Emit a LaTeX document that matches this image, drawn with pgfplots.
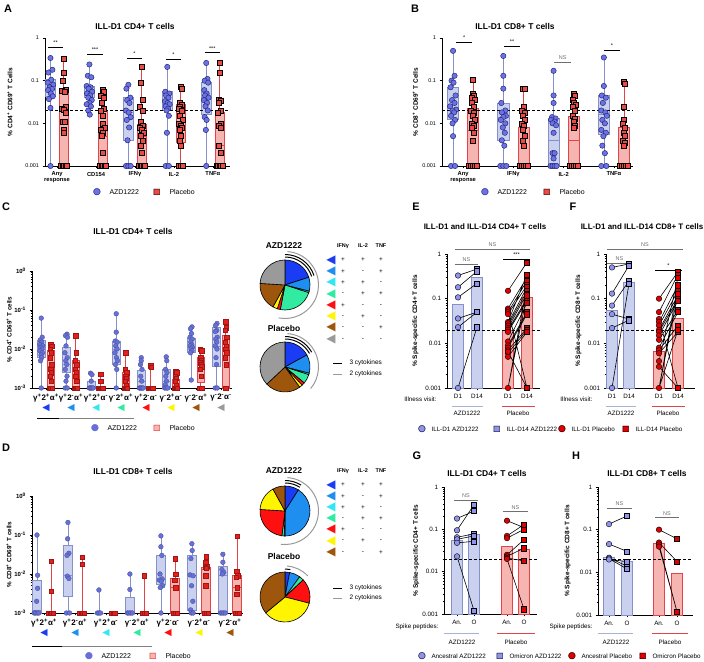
\documentclass[border=0pt]{standalone}
\usepackage{pgfplots}
\pgfplotsset{compat=1.18}
\usepackage{fontspec}
\setmainfont{Liberation Sans}
\newfontfamily\dejavu{DejaVu Sans}
\newcommand\fsz[1]{\fontsize{#1}{#1}\selectfont}
\definecolor{azdpt}{HTML}{6C71E6}
\definecolor{azdedge}{HTML}{1E2470}
\definecolor{azdfill}{HTML}{C9D1EE}
\definecolor{azdline}{HTML}{8590C8}
\definecolor{plpt}{HTML}{EC4A42}
\definecolor{plfill}{HTML}{F6B5B1}
\definecolor{plline}{HTML}{E2444A}
\definecolor{azdptc}{HTML}{6670D8}
\definecolor{plptc}{HTML}{E3201C}
\definecolor{ehpt}{HTML}{8F93EE}
\definecolor{ehred}{HTML}{E00000}
\definecolor{cblue}{HTML}{1A3CF5}
\definecolor{cazure}{HTML}{1E8FF0}
\definecolor{ccyan}{HTML}{30E8F2}
\definecolor{cmint}{HTML}{30EBA0}
\definecolor{cred}{HTML}{FF1010}
\definecolor{cyellow}{HTML}{FFF500}
\definecolor{cbrown}{HTML}{9E560C}
\definecolor{cgray}{HTML}{9A9A9A}
\definecolor{nsgray}{HTML}{707070}
\pgfplotsset{
 prismax/.style={scale only axis, axis x line*=bottom, axis y line*=left,
   clip=false, tick align=outside, axis line style={line width=0.8pt},
   tick style={black, line width=0.6pt}, major tick length=2.5pt, minor tick length=1.5pt,
   tick label style={font=\fsz{5.5}}},
 azdpts/.style={forget plot, only marks, mark=*, mark size=2.7, mark options={fill=azdpt, draw=azdedge, line width=0.45pt}},
 plpts/.style={forget plot, only marks, mark=square*, mark size=2.5, mark options={fill=plpt, draw=black, line width=0.45pt}},
 azdptsc/.style={forget plot, only marks, mark=*, mark size=2.4, mark options={fill=azdptc, draw=azdptc!70!black, line width=0.3pt}},
 plptsc/.style={forget plot, only marks, mark=square*, mark size=2.2, mark options={fill=plptc, draw=plptc!70!black, line width=0.3pt}},
 ehac/.style={forget plot, only marks, mark=*, mark size=2.8, mark options={fill=ehpt, draw=black, line width=0.4pt}},
 ehas/.style={forget plot, only marks, mark=square*, mark size=2.6, mark options={fill=ehpt, draw=black, line width=0.4pt}},
 ehpc/.style={forget plot, only marks, mark=*, mark size=2.8, mark options={fill=ehred, draw=black, line width=0.4pt}},
 ehps/.style={forget plot, only marks, mark=square*, mark size=2.6, mark options={fill=ehred, draw=black, line width=0.4pt}},
 pairline/.style={forget plot, black, line width=0.6pt, mark=none, unbounded coords=jump},
 thr/.style={forget plot, black, line width=0.7pt, dash pattern=on 3bp off 2bp},
}
% #1 colour prefix, #2 centre, #3 left, #4 right, #5 low whisker, #6 q1, #7 median, #8 q3, #9 high whisker
\newcommand\bx[9]{%
\addplot[forget plot, mark=none, draw=#1line, line width=0.6pt] coordinates {(#2,#5) (#2,#9)};
\addplot[forget plot, mark=none, draw=#1line, fill=#1fill, line width=0.6pt] coordinates {(#3,#6) (#4,#6) (#4,#8) (#3,#8)} --cycle;
\addplot[forget plot, mark=none, draw=#1line, line width=0.6pt] coordinates {(#3,#7) (#4,#7)};}
% #1 colour prefix, #2 left, #3 right, #4 value
\newcommand\vbar[4]{\addplot[forget plot, mark=none, draw=#1line, fill=#1fill, line width=0.6pt] coordinates {(#2,0.001) (#3,0.001) (#3,#4) (#2,#4)} --cycle;}
\newcommand\tri[1]{{\dejavu\fsz{9.5}\textcolor{#1}{◀}}}
\newcommand\symc[2]{{\dejavu\fsz{9}\rlap{\textcolor{#1}{●}}\textcolor{#2}{○}}}
\newcommand\syms[2]{{\dejavu\fsz{8}\rlap{\textcolor{#1}{■}}\textcolor{#2}{□}}}
\newcommand\mypie[4]{%
  \gdef\curang{90}%
  \foreach \p/\c in {#4} {%
    \pgfmathsetmacro\nextang{\curang-3.6*\p}%
    \filldraw[fill=\c, draw=black, line width=0.6pt] (#1,#2) -- ++(\curang:#3) arc[start angle=\curang, end angle=\nextang, radius=#3] -- cycle;%
    \global\let\curang\nextang
  }%
}
\newcommand\sig[5]{\draw[line width=0.7pt, #5] (axis cs:#1,#3) -- (axis cs:#2,#3) node[midway, above=-1.2pt, font=\fsz{5.5}, text=#5] {#4};}
\begin{document}
\begin{tikzpicture}
\useasboundingbox (0,0) rectangle (704bp,662bp);

% ================= A =================
\begin{axis}[ymode=log, ymin=0.001, ymax=1, prismax, at={(45bp,496bp)}, anchor=south west, width=185bp, height=128bp, xmin=-0.31, xmax=4.44,
 ytick={0.001,0.01,0.1,1}, yticklabels={0.001,0.01,0.1,1}, yminorticks=false,
 xtick={0,1,2,3,4}, xticklabels={{Any\\response},CD154,IFNγ,IL-2,TNFα},
 xticklabel style={align=center, font=\fsz{5.8}\bfseries},
 ylabel={\% CD4\textsuperscript{+} CD69\textsuperscript{+} T Cells},
 ylabel style={at={(axis description cs:-0.19,0.5)}, anchor=center, font=\fsz{6.5}\bfseries}]
\bx{azd}{-0.17}{-0.29}{-0.05}{0.001}{0.043}{0.064}{0.105}{0.34}
\bx{pl}{0.17}{0.05}{0.29}{0.001}{0.001}{0.02}{0.055}{0.33}
\bx{azd}{0.83}{0.71}{0.95}{0.016}{0.04}{0.05}{0.075}{0.24}
\bx{pl}{1.17}{1.05}{1.29}{0.001}{0.001}{0.005}{0.019}{0.06}
\bx{azd}{1.83}{1.71}{1.95}{0.001}{0.004}{0.018}{0.04}{0.08}
\bx{pl}{2.17}{2.05}{2.29}{0.001}{0.001}{0.005}{0.0095}{0.21}
\bx{azd}{2.83}{2.71}{2.95}{0.001}{0.02}{0.028}{0.055}{0.21}
\bx{pl}{3.17}{3.05}{3.29}{0.001}{0.0035}{0.009}{0.028}{0.072}
\bx{azd}{3.83}{3.71}{3.95}{0.001}{0.016}{0.04}{0.09}{0.26}
\bx{pl}{4.17}{4.05}{4.29}{0.001}{0.001}{0.003}{0.018}{0.27}
\addplot[thr] coordinates {(-0.31,0.02) (4.44,0.02)};
\addplot[azdpts] coordinates {(-0.17,0.34) (-0.12,0.18) (-0.22,0.155) (-0.15,0.105) (-0.24,0.09) (-0.10,0.08) (-0.19,0.07) (-0.13,0.064) (-0.23,0.06) (-0.16,0.05) (-0.11,0.043) (-0.21,0.037) (-0.17,0.023) (-0.17,0.001)
 (0.83,0.24) (0.79,0.13) (0.88,0.12) (0.76,0.075) (0.86,0.07) (0.81,0.065) (0.90,0.055) (0.77,0.05) (0.85,0.045) (0.80,0.04) (0.89,0.035) (0.83,0.03) (0.76,0.028) (0.87,0.025) (0.80,0.02) (0.84,0.016)
 (1.83,0.08) (1.78,0.065) (1.88,0.04) (1.80,0.035) (1.86,0.03) (1.77,0.02) (1.84,0.018) (1.89,0.014) (1.79,0.012) (1.85,0.008) (1.81,0.004) (1.77,0.001) (1.83,0.001) (1.89,0.001)
 (2.83,0.21) (2.78,0.055) (2.88,0.05) (2.80,0.045) (2.86,0.04) (2.77,0.033) (2.84,0.03) (2.89,0.028) (2.79,0.025) (2.85,0.022) (2.81,0.02) (2.87,0.015) (2.82,0.006) (2.79,0.001) (2.87,0.001)
 (3.83,0.26) (3.86,0.11) (3.79,0.1) (3.88,0.09) (3.78,0.06) (3.84,0.05) (3.80,0.045) (3.89,0.04) (3.77,0.035) (3.85,0.03) (3.81,0.025) (3.87,0.02) (3.79,0.014) (3.84,0.012) (3.82,0.007) (3.83,0.001)};
\addplot[plpts] coordinates {(0.17,0.33) (0.17,0.15) (0.14,0.1) (0.22,0.06) (0.12,0.058) (0.19,0.055) (0.21,0.025) (0.13,0.022) (0.17,0.021) (0.23,0.018) (0.14,0.011) (0.20,0.011) (0.16,0.007) (0.16,0.006) (0.10,0.001) (0.14,0.001) (0.18,0.001) (0.22,0.001) (0.25,0.001)
 (1.17,0.06) (1.21,0.055) (1.13,0.045) (1.19,0.04) (1.15,0.03) (1.21,0.022) (1.13,0.02) (1.18,0.015) (1.16,0.01) (1.22,0.008) (1.12,0.007) (1.18,0.006) (1.14,0.005) (1.17,0.002) (1.10,0.001) (1.14,0.001) (1.18,0.001) (1.22,0.001) (1.25,0.001)
 (2.17,0.21) (2.16,0.09) (2.19,0.035) (2.13,0.025) (2.21,0.02) (2.15,0.011) (2.20,0.009) (2.13,0.008) (2.18,0.007) (2.22,0.006) (2.14,0.005) (2.19,0.004) (2.15,0.003) (2.17,0.002) (2.10,0.001) (2.14,0.001) (2.18,0.001) (2.22,0.001) (2.25,0.001)
 (3.17,0.072) (3.19,0.065) (3.14,0.03) (3.21,0.028) (3.16,0.025) (3.12,0.022) (3.20,0.02) (3.15,0.015) (3.22,0.012) (3.13,0.01) (3.18,0.009) (3.21,0.008) (3.14,0.007) (3.18,0.005) (3.15,0.004) (3.17,0.003) (3.13,0.001) (3.18,0.001) (3.23,0.001)
 (4.17,0.27) (4.17,0.15) (4.14,0.035) (4.20,0.033) (4.16,0.03) (4.21,0.02) (4.13,0.018) (4.19,0.01) (4.15,0.009) (4.21,0.008) (4.14,0.003) (4.19,0.002) (4.09,0.001) (4.13,0.001) (4.17,0.001) (4.21,0.001) (4.25,0.001)};
\sig{-0.23}{0.15}{0.62}{**}{black}
\sig{0.77}{1.18}{0.42}{***}{black}
\sig{1.79}{2.18}{0.34}{*}{black}
\sig{2.79}{3.18}{0.32}{*}{black}
\sig{3.79}{4.18}{0.45}{***}{black}
\end{axis}

% ================= B =================
\begin{axis}[ymode=log, ymin=0.001, ymax=1, prismax, at={(442bp,496bp)}, anchor=south west, width=191bp, height=128bp, xmin=-0.42, xmax=3.38,
 ytick={0.001,0.01,0.1,1}, yticklabels={0.001,0.01,0.1,1}, yminorticks=false,
 xtick={0,1,2,3}, xticklabels={{Any\\response},IFNγ,IL-2,TNFα},
 xticklabel style={align=center, font=\fsz{5.8}\bfseries},
 ylabel={\% CD8\textsuperscript{+} CD69\textsuperscript{+} T Cells},
 ylabel style={at={(axis description cs:-0.14,0.5)}, anchor=center, font=\fsz{6.5}\bfseries}]
\bx{azd}{-0.2}{-0.31}{-0.09}{0.001}{0.0125}{0.02}{0.07}{0.5}
\bx{pl}{0.2}{0.09}{0.31}{0.001}{0.001}{0.007}{0.022}{0.105}
\bx{azd}{0.8}{0.69}{0.91}{0.001}{0.004}{0.014}{0.03}{0.38}
\bx{pl}{1.2}{1.09}{1.31}{0.001}{0.001}{0.001}{0.008}{0.066}
\bx{azd}{1.8}{1.69}{1.91}{0.001}{0.001}{0.004}{0.013}{0.17}
\bx{pl}{2.2}{2.09}{2.31}{0.001}{0.001}{0.004}{0.015}{0.05}
\bx{azd}{2.8}{2.69}{2.91}{0.001}{0.0055}{0.016}{0.045}{0.35}
\bx{pl}{3.2}{3.09}{3.31}{0.001}{0.001}{0.001}{0.008}{0.095}
\addplot[thr] coordinates {(-0.42,0.02) (3.38,0.02)};
\addplot[azdpts] coordinates {(-0.2,0.5) (-0.17,0.13) (-0.23,0.1) (-0.19,0.09) (-0.25,0.07) (-0.15,0.045) (-0.22,0.035) (-0.17,0.03) (-0.26,0.025) (-0.14,0.021) (-0.21,0.02) (-0.18,0.018) (-0.24,0.015) (-0.16,0.012) (-0.21,0.01) (-0.2,0.005) (-0.24,0.001) (-0.16,0.001)
 (0.8,0.38) (0.8,0.13) (0.8,0.065) (0.76,0.03) (0.84,0.02) (0.77,0.018) (0.85,0.015) (0.80,0.014) (0.75,0.012) (0.84,0.01) (0.79,0.008) (0.83,0.006) (0.77,0.004) (0.82,0.003) (0.74,0.001) (0.8,0.001) (0.86,0.001)
 (1.8,0.17) (1.8,0.045) (1.8,0.03) (1.77,0.014) (1.84,0.013) (1.75,0.012) (1.82,0.011) (1.78,0.01) (1.85,0.009) (1.8,0.006) (1.78,0.002) (1.82,0.002) (1.8,0.0015) (1.74,0.001) (1.78,0.001) (1.82,0.001) (1.86,0.001)
 (2.8,0.35) (2.8,0.075) (2.76,0.045) (2.84,0.04) (2.78,0.03) (2.75,0.02) (2.83,0.018) (2.86,0.015) (2.77,0.012) (2.82,0.01) (2.75,0.007) (2.84,0.006) (2.79,0.005) (2.77,0.003) (2.82,0.002) (2.75,0.001) (2.85,0.001)};
\addplot[plpts] coordinates {(0.2,0.105) (0.19,0.05) (0.22,0.045) (0.17,0.04) (0.23,0.035) (0.18,0.03) (0.21,0.025) (0.16,0.02) (0.22,0.018) (0.19,0.015) (0.23,0.012) (0.17,0.01) (0.21,0.009) (0.18,0.008) (0.22,0.006) (0.19,0.004) (0.12,0.001) (0.16,0.001) (0.2,0.001) (0.24,0.001) (0.28,0.001)
 (1.19,0.066) (1.22,0.065) (1.2,0.025) (1.17,0.02) (1.23,0.018) (1.18,0.015) (1.22,0.012) (1.16,0.01) (1.21,0.009) (1.19,0.007) (1.22,0.005) (1.18,0.004) (1.2,0.003) (1.12,0.001) (1.16,0.001) (1.2,0.001) (1.24,0.001) (1.28,0.001)
 (2.2,0.05) (2.23,0.045) (2.18,0.035) (2.21,0.03) (2.24,0.028) (2.19,0.024) (2.22,0.02) (2.19,0.015) (2.23,0.013) (2.2,0.011) (2.22,0.009) (2.2,0.008) (2.12,0.001) (2.16,0.001) (2.2,0.001) (2.24,0.001) (2.28,0.001)
 (3.2,0.095) (3.22,0.085) (3.19,0.025) (3.2,0.012) (3.18,0.01) (3.22,0.008) (3.19,0.006) (3.21,0.005) (3.18,0.004) (3.22,0.0035) (3.2,0.003) (3.12,0.001) (3.16,0.001) (3.2,0.001) (3.24,0.001) (3.28,0.001)};
\sig{-0.14}{0.18}{0.81}{*}{black}
\sig{0.82}{1.13}{0.65}{**}{black}
\sig{1.81}{2.15}{0.27}{NS}{nsgray}
\sig{2.8}{3.12}{0.52}{*}{black}
\end{axis}

% ================= C =================
\begin{axis}[ymode=log, ymin=0.001, ymax=1, prismax, at={(32bp,274bp)}, anchor=south west, width=200bp, height=117bp, xmin=-0.56, xmax=7.44,
 ytick={0.001,0.01,0.1,1},
 minor ytick={0.002,0.003,0.004,0.005,0.006,0.007,0.008,0.009,0.02,0.03,0.04,0.05,0.06,0.07,0.08,0.09,0.2,0.3,0.4,0.5,0.6,0.7,0.8,0.9},
 xtick={0,...,7},
 xticklabels={
 {γ\textsuperscript{+}2\textsuperscript{+}α\textsuperscript{+}\\[2.5bp]\tri{cblue}},
 {γ\textsuperscript{+}2\textsuperscript{-}α\textsuperscript{+}\\[2.5bp]\tri{cazure}},
 {γ\textsuperscript{+}2\textsuperscript{+}α\textsuperscript{-}\\[2.5bp]\tri{ccyan}},
 {γ\textsuperscript{-}2\textsuperscript{+}α\textsuperscript{+}\\[2.5bp]\tri{cmint}},
 {γ\textsuperscript{+}2\textsuperscript{-}α\textsuperscript{-}\\[2.5bp]\tri{cred}},
 {γ\textsuperscript{-}2\textsuperscript{+}α\textsuperscript{-}\\[2.5bp]\tri{cyellow}},
 {γ\textsuperscript{-}2\textsuperscript{-}α\textsuperscript{+}\\[2.5bp]\tri{cbrown}},
 {γ\textsuperscript{-}2\textsuperscript{-}α\textsuperscript{-}\\[2.5bp]\tri{cgray}}},
 xticklabel style={align=center, font=\fsz{8}\bfseries},
 yticklabels={10\textsuperscript{-3},10\textsuperscript{-2},10\textsuperscript{-1},10\textsuperscript{0}},
 yticklabel style={font=\fsz{6}\bfseries},
 ylabel={\% CD4\textsuperscript{+} CD69\textsuperscript{+} T cells},
 ylabel style={at={(axis description cs:-0.115,0.5)}, anchor=center, font=\fsz{6.3}\bfseries}]
\bx{azd}{-0.19}{-0.34}{-0.04}{0.001}{0.006}{0.01}{0.017}{0.062}
\bx{pl}{0.19}{0.04}{0.34}{0.001}{0.001}{0.0035}{0.009}{0.013}
\bx{azd}{0.81}{0.66}{0.96}{0.001}{0.0025}{0.004}{0.011}{0.024}
\bx{pl}{1.19}{1.04}{1.34}{0.001}{0.001}{0.002}{0.005}{0.022}
\bx{azd}{1.81}{1.66}{1.96}{0.001}{0.001}{0.001}{0.0015}{0.0024}
\bx{pl}{2.19}{2.04}{2.34}{0.001}{0.001}{0.001}{0.001}{0.0023}
\bx{azd}{2.81}{2.66}{2.96}{0.001}{0.004}{0.01}{0.016}{0.08}
\bx{pl}{3.19}{3.04}{3.34}{0.001}{0.001}{0.0015}{0.0025}{0.008}
\bx{azd}{3.81}{3.66}{3.96}{0.001}{0.001}{0.0015}{0.0028}{0.006}
\bx{pl}{4.19}{4.04}{4.34}{0.001}{0.001}{0.001}{0.001}{0.0037}
\bx{azd}{4.81}{4.66}{4.96}{0.001}{0.001}{0.0015}{0.003}{0.0063}
\bx{pl}{5.19}{5.04}{5.34}{0.001}{0.001}{0.0013}{0.0017}{0.0027}
\bx{azd}{5.81}{5.66}{5.96}{0.0016}{0.008}{0.012}{0.019}{0.037}
\bx{pl}{6.19}{6.04}{6.34}{0.001}{0.0014}{0.0045}{0.006}{0.01}
\bx{azd}{6.81}{6.66}{6.96}{0.001}{0.0037}{0.012}{0.035}{0.045}
\bx{pl}{7.19}{7.04}{7.34}{0.001}{0.001}{0.01}{0.023}{0.05}
\addplot[azdptsc] coordinates {(-0.19,0.062) (-0.15,0.02) (-0.23,0.017) (-0.17,0.015) (-0.25,0.013) (-0.13,0.012) (-0.21,0.011) (-0.16,0.01) (-0.24,0.009) (-0.14,0.008) (-0.2,0.007) (-0.17,0.006) (-0.22,0.005) (-0.19,0.001)
 (0.84,0.024) (0.78,0.022) (0.86,0.02) (0.8,0.012) (0.76,0.008) (0.85,0.006) (0.79,0.005) (0.83,0.004) (0.77,0.003) (0.84,0.002) (0.8,0.0015) (0.77,0.001) (0.85,0.001)
 (1.78,0.0024) (1.84,0.0022) (1.81,0.0015) (1.73,0.001) (1.77,0.001) (1.81,0.001) (1.85,0.001) (1.89,0.001)
 (2.81,0.08) (2.81,0.027) (2.77,0.016) (2.85,0.015) (2.79,0.012) (2.84,0.01) (2.76,0.008) (2.82,0.006) (2.86,0.005) (2.78,0.004) (2.83,0.003) (2.81,0.001)
 (3.81,0.006) (3.81,0.005) (3.78,0.004) (3.84,0.003) (3.79,0.002) (3.83,0.0015) (3.73,0.001) (3.77,0.001) (3.81,0.001) (3.85,0.001) (3.89,0.001)
 (4.81,0.0063) (4.83,0.005) (4.78,0.003) (4.84,0.0025) (4.79,0.002) (4.82,0.0015) (4.77,0.0012) (4.75,0.001) (4.81,0.001) (4.87,0.001)
 (5.84,0.037) (5.78,0.033) (5.82,0.025) (5.76,0.02) (5.85,0.018) (5.79,0.015) (5.83,0.013) (5.77,0.012) (5.86,0.011) (5.8,0.01) (5.84,0.009) (5.78,0.008) (5.81,0.0016)
 (6.84,0.045) (6.78,0.04) (6.83,0.03) (6.77,0.028) (6.85,0.02) (6.79,0.018) (6.83,0.015) (6.77,0.012) (6.84,0.01) (6.8,0.006) (6.82,0.004) (6.77,0.001) (6.85,0.001)};
\addplot[plptsc] coordinates {(0.19,0.013) (0.23,0.012) (0.16,0.01) (0.21,0.008) (0.17,0.006) (0.22,0.004) (0.18,0.003) (0.21,0.0025) (0.16,0.002) (0.2,0.0015) (0.14,0.001) (0.19,0.001) (0.24,0.001)
 (1.19,0.022) (1.21,0.008) (1.17,0.005) (1.22,0.004) (1.16,0.003) (1.2,0.0025) (1.18,0.002) (1.22,0.0015) (1.13,0.001) (1.17,0.001) (1.21,0.001) (1.25,0.001)
 (2.19,0.0023) (2.19,0.0015) (2.11,0.001) (2.15,0.001) (2.19,0.001) (2.23,0.001) (2.27,0.001)
 (3.19,0.008) (3.16,0.003) (3.22,0.0025) (3.18,0.002) (3.21,0.0018) (3.16,0.0015) (3.2,0.0012) (3.13,0.001) (3.17,0.001) (3.21,0.001) (3.25,0.001)
 (4.19,0.0037) (4.21,0.0034) (4.11,0.001) (4.15,0.001) (4.19,0.001) (4.23,0.001) (4.27,0.001)
 (5.19,0.0027) (5.22,0.0025) (5.16,0.002) (5.21,0.0018) (5.17,0.0015) (5.2,0.0012) (5.13,0.001) (5.17,0.001) (5.21,0.001) (5.25,0.001)
 (6.17,0.01) (6.22,0.009) (6.18,0.006) (6.21,0.005) (6.16,0.0045) (6.2,0.004) (6.23,0.0035) (6.17,0.003) (6.2,0.002) (6.15,0.001) (6.23,0.001)
 (7.19,0.05) (7.21,0.035) (7.17,0.03) (7.22,0.02) (7.16,0.015) (7.2,0.012) (7.18,0.01) (7.22,0.008) (7.17,0.006) (7.2,0.004) (7.19,0.001)};
\end{axis}

% ================= D =================
\begin{axis}[ymode=log, ymin=0.001, ymax=1, prismax, at={(32bp,49bp)}, anchor=south west, width=211bp, height=117bp, xmin=-0.39, xmax=6.42,
 ytick={0.001,0.01,0.1,1},
 minor ytick={0.002,0.003,0.004,0.005,0.006,0.007,0.008,0.009,0.02,0.03,0.04,0.05,0.06,0.07,0.08,0.09,0.2,0.3,0.4,0.5,0.6,0.7,0.8,0.9},
 xtick={0,...,6},
 xticklabels={
 {γ\textsuperscript{+}2\textsuperscript{+}α\textsuperscript{+}\\[2.5bp]\tri{cblue}},
 {γ\textsuperscript{+}2\textsuperscript{-}α\textsuperscript{+}\\[2.5bp]\tri{cazure}},
 {γ\textsuperscript{+}2\textsuperscript{+}α\textsuperscript{-}\\[2.5bp]\tri{ccyan}},
 {γ\textsuperscript{-}2\textsuperscript{+}α\textsuperscript{+}\\[2.5bp]\tri{cmint}},
 {γ\textsuperscript{+}2\textsuperscript{-}α\textsuperscript{-}\\[2.5bp]\tri{cred}},
 {γ\textsuperscript{-}2\textsuperscript{+}α\textsuperscript{-}\\[2.5bp]\tri{cyellow}},
 {γ\textsuperscript{-}2\textsuperscript{-}α\textsuperscript{+}\\[2.5bp]\tri{cbrown}}},
 xticklabel style={align=center, font=\fsz{8}\bfseries},
 yticklabels={10\textsuperscript{-3},10\textsuperscript{-2},10\textsuperscript{-1},10\textsuperscript{0}},
 yticklabel style={font=\fsz{6}\bfseries},
 ylabel={\% CD8\textsuperscript{+} CD69\textsuperscript{+} T cells},
 ylabel style={at={(axis description cs:-0.11,0.5)}, anchor=center, font=\fsz{6.3}\bfseries}]
\bx{azd}{-0.23}{-0.38}{-0.08}{0.001}{0.001}{0.0012}{0.0068}{0.1}
\bx{pl}{0.23}{0.08}{0.38}{0.001}{0.001}{0.001}{0.001}{0.021}
\bx{azd}{0.77}{0.62}{0.92}{0.001}{0.0027}{0.009}{0.055}{0.21}
\bx{pl}{1.23}{1.08}{1.38}{0.001}{0.001}{0.001}{0.001}{0.027}
\bx{azd}{1.77}{1.62}{1.92}{0.001}{0.001}{0.001}{0.001}{0.0039}
\bx{azd}{2.77}{2.62}{2.92}{0.001}{0.001}{0.001}{0.0025}{0.01}
\bx{pl}{3.23}{3.08}{3.38}{0.001}{0.001}{0.001}{0.001}{0.009}
\bx{azd}{3.77}{3.62}{3.92}{0.001}{0.0055}{0.0075}{0.031}{0.095}
\bx{pl}{4.23}{4.08}{4.38}{0.001}{0.001}{0.0045}{0.0078}{0.025}
\bx{azd}{4.77}{4.62}{4.92}{0.001}{0.0012}{0.0095}{0.031}{0.06}
\bx{pl}{5.23}{5.08}{5.38}{0.001}{0.001}{0.013}{0.015}{0.028}
\bx{azd}{5.77}{5.62}{5.92}{0.001}{0.001}{0.0095}{0.016}{0.032}
\bx{pl}{6.23}{6.08}{6.38}{0.001}{0.001}{0.0045}{0.009}{0.095}
\addplot[azdptsc] coordinates {(-0.23,0.1) (-0.21,0.0093) (-0.21,0.0043) (-0.24,0.002) (-0.32,0.001) (-0.27,0.001) (-0.22,0.001) (-0.17,0.001)
 (0.77,0.21) (0.76,0.08) (0.8,0.034) (0.74,0.03) (0.75,0.0088) (0.8,0.0077) (0.72,0.001) (0.82,0.001)
 (1.77,0.0039) (1.72,0.001) (1.77,0.001) (1.82,0.001)
 (2.77,0.01) (2.77,0.004) (2.69,0.001) (2.74,0.001) (2.8,0.001) (2.85,0.001)
 (3.77,0.095) (3.77,0.05) (3.8,0.03) (3.74,0.01) (3.81,0.0075) (3.72,0.007) (3.78,0.0065) (3.83,0.005) (3.75,0.0045) (3.77,0.001)
 (4.77,0.06) (4.78,0.04) (4.74,0.025) (4.71,0.0095) (4.81,0.009) (4.76,0.005) (4.8,0.002) (4.73,0.0012) (4.75,0.001) (4.81,0.001)
 (5.77,0.032) (5.77,0.02) (5.74,0.013) (5.8,0.011) (5.75,0.01) (5.69,0.001) (5.74,0.001) (5.8,0.001) (5.85,0.001)};
\addplot[plptsc] coordinates {(0.23,0.021) (0.23,0.0036) (0.15,0.001) (0.2,0.001) (0.25,0.001) (0.3,0.001)
 (1.23,0.027) (1.22,0.018) (1.15,0.001) (1.2,0.001) (1.25,0.001) (1.3,0.001)
 (2.18,0.001) (2.23,0.001) (2.28,0.001)
 (3.23,0.009) (3.17,0.001) (3.23,0.001) (3.29,0.001)
 (4.23,0.025) (4.25,0.01) (4.21,0.007) (4.25,0.0045) (4.17,0.001) (4.23,0.001) (4.29,0.001)
 (5.23,0.028) (5.21,0.02) (5.25,0.016) (5.2,0.015) (5.24,0.014) (5.22,0.009) (5.21,0.005) (5.17,0.001) (5.23,0.001) (5.29,0.001)
 (6.23,0.095) (6.22,0.012) (6.25,0.009) (6.2,0.0082) (6.23,0.0045) (6.21,0.003) (6.17,0.001) (6.23,0.001) (6.29,0.001)};
\end{axis}

% ================= E =================
\begin{axis}[ymode=log, ymin=0.001, ymax=1, prismax, at={(447bp,274bp)}, anchor=south west, width=93bp, height=134bp, xmin=0, xmax=93,
 ytick={0.001,0.01,0.1,1}, yticklabels={0.001,0.01,0.1,1},
 minor ytick={0.002,0.003,0.004,0.005,0.006,0.007,0.008,0.009,0.02,0.03,0.04,0.05,0.06,0.07,0.08,0.09,0.2,0.3,0.4,0.5,0.6,0.7,0.8,0.9},
 xtick={11,30,61,80}, xticklabels={D1,D14,D1,D14}, tick label style={font=\fsz{6.3}},
 ylabel={\% Spike-specific CD4+ T cells},
 ylabel style={at={(axis description cs:-0.34,0.5)}, anchor=center, font=\fsz{6.5}\bfseries}]
\vbar{azd}{5.5}{16.5}{0.075}
\vbar{azd}{24.5}{35.5}{0.3}
\vbar{pl}{55.5}{66.5}{0.02}
\vbar{pl}{74.5}{85.5}{0.105}
\addplot[thr] coordinates {(0,0.02) (93,0.02)};
\addplot[pairline] coordinates {(11,0.33) (30,0.46) (20,nan) (11,0.18) (30,0.41) (20,nan) (11,0.107) (30,0.22) (20,nan) (11,0.036) (30,0.05) (20,nan) (11,0.023) (30,0.05) (20,nan) (11,0.001) (30,0.023)};
\addplot[pairline] coordinates {(61,0.15) (80,0.65) (70,nan) (61,0.06) (80,0.3) (70,nan) (61,0.055) (80,0.001) (70,nan) (61,0.05) (80,0.25) (70,nan) (61,0.045) (80,0.2) (70,nan) (61,0.03) (80,0.35) (70,nan) (61,0.028) (80,0.18) (70,nan) (61,0.025) (80,0.15) (70,nan) (61,0.022) (80,0.13) (70,nan) (61,0.02) (80,0.1) (70,nan) (61,0.018) (80,0.09) (70,nan) (61,0.011) (80,0.08) (70,nan) (61,0.009) (80,0.05) (70,nan) (61,0.008) (80,0.045) (70,nan) (61,0.007) (80,0.022) (70,nan) (61,0.006) (80,0.02) (70,nan) (61,0.005) (80,0.018) (70,nan) (61,0.001) (80,0.2) (70,nan) (61,0.001) (80,0.12) (70,nan) (61,0.0065) (80,0.001)};
\addplot[ehac] coordinates {(11,0.33) (11,0.18) (11,0.107) (11,0.036) (11,0.023) (11,0.001)};
\addplot[ehas] coordinates {(30,0.46) (30,0.41) (30,0.22) (30,0.05) (30,0.023)};
\addplot[ehpc] coordinates {(61,0.15) (61,0.06) (61,0.055) (61,0.05) (61,0.045) (61,0.03) (61,0.028) (61,0.025) (61,0.022) (61,0.02) (61,0.018) (61,0.011) (61,0.009) (61,0.008) (61,0.007) (61,0.006) (61,0.005) (61,0.001) (61,0.0065)};
\addplot[ehps] coordinates {(80,0.65) (80,0.3) (80,0.001) (80,0.25) (80,0.2) (80,0.35) (80,0.18) (80,0.15) (80,0.13) (80,0.1) (80,0.09) (80,0.08) (80,0.05) (80,0.045) (80,0.022) (80,0.02) (80,0.018) (80,0.12)};
\sig{8}{83}{1.29}{NS}{nsgray}
\sig{8}{31}{0.6}{NS}{nsgray}
\sig{56}{83}{0.77}{***}{black}
\end{axis}

% ================= F =================
\begin{axis}[ymode=log, ymin=0.001, ymax=1, prismax, at={(606bp,274bp)}, anchor=south west, width=89bp, height=134bp, xmin=0, xmax=89,
 ytick={0.001,0.01,0.1,1}, yticklabels={0.001,0.01,0.1,1},
 minor ytick={0.002,0.003,0.004,0.005,0.006,0.007,0.008,0.009,0.02,0.03,0.04,0.05,0.06,0.07,0.08,0.09,0.2,0.3,0.4,0.5,0.6,0.7,0.8,0.9},
 xtick={6,23,53,72}, xticklabels={D1,D14,D1,D14}, tick label style={font=\fsz{6.3}},
 ylabel={\% Spike-specific CD8+ T cells},
 ylabel style={at={(axis description cs:-0.31,0.5)}, anchor=center, font=\fsz{6.5}\bfseries}]
\vbar{azd}{0.5}{11.5}{0.055}
\vbar{azd}{17.5}{28.5}{0.23}
\vbar{pl}{47.5}{58.5}{0.0065}
\vbar{pl}{66.5}{77.5}{0.037}
\addplot[thr] coordinates {(0,0.02) (89,0.02)};
\addplot[pairline] coordinates {(6,0.5) (23,0.6) (15,nan) (6,0.13) (23,0.55) (15,nan) (6,0.07) (23,0.25) (15,nan) (6,0.045) (23,0.035) (15,nan) (6,0.022) (23,0.033) (15,nan) (6,0.001) (23,0.22)};
\addplot[pairline] coordinates {(53,0.1) (72,0.4) (60,nan) (53,0.05) (72,0.35) (60,nan) (53,0.035) (72,0.001) (60,nan) (53,0.03) (72,0.2) (60,nan) (53,0.025) (72,0.15) (60,nan) (53,0.02) (72,0.12) (60,nan) (53,0.018) (72,0.1) (60,nan) (53,0.015) (72,0.09) (60,nan) (53,0.012) (72,0.055) (60,nan) (53,0.008) (72,0.05) (60,nan) (53,0.007) (72,0.025) (60,nan) (53,0.006) (72,0.018) (60,nan) (53,0.004) (72,0.3) (60,nan) (53,0.003) (72,0.001) (60,nan) (53,0.001) (72,0.2) (60,nan) (53,0.001) (72,0.13) (60,nan) (53,0.001) (72,0.02)};
\addplot[ehac] coordinates {(6,0.5) (6,0.13) (6,0.07) (6,0.045) (6,0.022) (6,0.001)};
\addplot[ehas] coordinates {(23,0.6) (23,0.55) (23,0.25) (23,0.035) (23,0.033) (23,0.22)};
\addplot[ehpc] coordinates {(53,0.1) (53,0.05) (53,0.035) (53,0.03) (53,0.025) (53,0.02) (53,0.018) (53,0.015) (53,0.012) (53,0.008) (53,0.007) (53,0.006) (53,0.004) (53,0.003) (53,0.001)};
\addplot[ehps] coordinates {(72,0.4) (72,0.35) (72,0.001) (72,0.2) (72,0.15) (72,0.12) (72,0.1) (72,0.09) (72,0.055) (72,0.05) (72,0.025) (72,0.018) (72,0.3) (72,0.13) (72,0.02)};
\sig{1}{77}{1.29}{NS}{nsgray}
\sig{1}{26}{0.63}{NS}{nsgray}
\sig{49}{76}{0.44}{*}{black}
\end{axis}

% ================= G =================
\begin{axis}[ymode=log, ymin=0.001, ymax=1, prismax, at={(444bp,48bp)}, anchor=south west, width=93bp, height=127bp, xmin=0, xmax=93,
 ytick={0.001,0.01,0.1,1}, yticklabels={0.001,0.01,0.1,1},
 minor ytick={0.002,0.003,0.004,0.005,0.006,0.007,0.008,0.009,0.02,0.03,0.04,0.05,0.06,0.07,0.08,0.09,0.2,0.3,0.4,0.5,0.6,0.7,0.8,0.9},
 xtick={13,30,63,80}, xticklabels={An.,O,An.,O}, tick label style={font=\fsz{6.3}},
 ylabel={\% Spike-specific CD4+ T cells},
 ylabel style={at={(axis description cs:-0.30,0.5)}, anchor=center, font=\fsz{6.5}\bfseries}]
\vbar{azd}{7.5}{18.5}{0.055}
\vbar{azd}{24.5}{35.5}{0.075}
\vbar{pl}{57.5}{68.5}{0.04}
\vbar{pl}{74.5}{85.5}{0.033}
\addplot[thr] coordinates {(0,0.02) (93,0.02)};
\addplot[pairline] coordinates {(13,0.18) (30,0.27) (20,nan) (13,0.095) (30,0.38) (20,nan) (13,0.065) (30,0.078) (20,nan) (13,0.058) (30,0.07) (20,nan) (13,0.048) (30,0.052) (20,nan) (13,0.023) (30,0.0012)};
\addplot[pairline] coordinates {(63,0.16) (80,0.11) (70,nan) (63,0.07) (80,0.13) (70,nan) (63,0.062) (80,0.1) (70,nan) (63,0.025) (80,0.057) (70,nan) (63,0.023) (80,0.036) (70,nan) (63,0.021) (80,0.018) (70,nan) (63,0.02) (80,0.0013)};
\addplot[ehac] coordinates {(13,0.18) (13,0.095) (13,0.065) (13,0.058) (13,0.048) (13,0.023)};
\addplot[ehas] coordinates {(30,0.27) (30,0.38) (30,0.078) (30,0.07) (30,0.052) (30,0.0012)};
\addplot[ehpc] coordinates {(63,0.16) (63,0.07) (63,0.062) (63,0.025) (63,0.023) (63,0.021) (63,0.02)};
\addplot[ehps] coordinates {(80,0.11) (80,0.13) (80,0.1) (80,0.057) (80,0.036) (80,0.018) (80,0.0013)};
\sig{10}{34}{0.49}{NS}{nsgray}
\sig{59}{84}{0.26}{NS}{nsgray}
\end{axis}

% ================= H =================
\begin{axis}[ymode=log, ymin=0.001, ymax=1, prismax, at={(598bp,47bp)}, anchor=south west, width=95bp, height=128bp, xmin=0, xmax=95,
 ytick={0.001,0.01,0.1,1}, yticklabels={0.001,0.01,0.1,1},
 minor ytick={0.002,0.003,0.004,0.005,0.006,0.007,0.008,0.009,0.02,0.03,0.04,0.05,0.06,0.07,0.08,0.09,0.2,0.3,0.4,0.5,0.6,0.7,0.8,0.9},
 xtick={11,29,61,79}, xticklabels={An.,O,An.,O}, tick label style={font=\fsz{6.3}},
 ylabel={\% Spike-specific CD8+ T cells},
 ylabel style={at={(axis description cs:-0.32,0.5)}, anchor=center, font=\fsz{6.5}\bfseries}]
\vbar{azd}{5.5}{16.5}{0.022}
\vbar{azd}{23.5}{34.5}{0.018}
\vbar{pl}{55.5}{66.5}{0.047}
\vbar{pl}{73.5}{84.5}{0.0095}
\addplot[thr] coordinates {(0,0.02) (95,0.02)};
\addplot[pairline] coordinates {(11,0.135) (29,0.21) (20,nan) (11,0.046) (29,0.031) (20,nan) (11,0.022) (29,0.014) (20,nan) (11,0.021) (29,0.012) (20,nan) (11,0.02) (29,0.018)};
\addplot[pairline] coordinates {(61,0.1) (79,0.061) (70,nan) (61,0.05) (79,0.018) (70,nan) (61,0.045) (79,0.0012) (70,nan) (61,0.04) (79,0.0012)};
\addplot[ehac] coordinates {(11,0.135) (11,0.046) (11,0.022) (11,0.021) (11,0.02)};
\addplot[ehas] coordinates {(29,0.21) (29,0.031) (29,0.014) (29,0.012) (29,0.018)};
\addplot[ehpc] coordinates {(61,0.1) (61,0.05) (61,0.045) (61,0.04)};
\addplot[ehps] coordinates {(79,0.061) (79,0.018) (79,0.0012)};
\sig{9}{34}{0.32}{NS}{nsgray}
\sig{57}{81}{0.19}{NS}{nsgray}
\end{axis}

% ================= annotations =================
\begin{scope}[x=1bp,y=1bp]
\foreach \l/\xx/\yy in {A/8/653, B/415/653, C/6/455, D/6/214, E/416/455, F/573/455, G/417/206, H/576/206}
  \node[font=\fsz{11}\bfseries] at (\xx,\yy) {\l};
\node[font=\fsz{8.5}\bfseries] at (135,636) {ILL-D1 CD4+ T cells};
\node[font=\fsz{8.5}\bfseries] at (515,636) {ILL-D1 CD8+ T cells};
\node[font=\fsz{8.5}\bfseries] at (133,431) {ILL-D1 CD4+ T cells};
\node[font=\fsz{8.5}\bfseries] at (133,191) {ILL-D1 CD8+ T cells};
\node[font=\fsz{8}\bfseries] at (485,435) {ILL-D1 and ILL-D14 CD4+ T cells};
\node[font=\fsz{8}\bfseries] at (642,435) {ILL-D1 and ILL-D14 CD8+ T cells};
\node[font=\fsz{8.5}\bfseries] at (487,189) {ILL-D1 CD4+ T cells};
\node[font=\fsz{8.5}\bfseries] at (647,189) {ILL-D1 CD8+ T cells};
% legends
\node[inner sep=0pt] at (97,470) {\symc{azdpt}{azdedge}};
\node[font=\fsz{7}, anchor=west] at (106,470) {AZD1222};
\node[inner sep=0pt] at (157,470) {\syms{plpt}{black}};
\node[font=\fsz{7}, anchor=west] at (166,470) {Placebo};
\node[inner sep=0pt] at (485,470) {\symc{azdpt}{azdedge}};
\node[font=\fsz{7}, anchor=west] at (494,470) {AZD1222};
\node[inner sep=0pt] at (547,470) {\syms{plpt}{black}};
\node[font=\fsz{7}, anchor=west] at (556,470) {Placebo};
\node[inner sep=0pt] at (95,234) {\symc{azdptc}{azdptc}};
\node[font=\fsz{7}, anchor=west] at (104,234) {AZD1222};
\node[inner sep=0pt] at (157,234) {\syms{plfill}{plptc}};
\node[font=\fsz{7}, anchor=west] at (166,234) {Placebo};
\node[inner sep=0pt] at (89,6) {\symc{azdptc}{azdptc}};
\node[font=\fsz{7}, anchor=west] at (98,6) {AZD1222};
\node[inner sep=0pt] at (153,6) {\syms{plfill}{plptc}};
\node[font=\fsz{7}, anchor=west] at (162,6) {Placebo};
\node[inner sep=0pt] at (422,233) {\symc{ehpt}{black}};
\node[font=\fsz{6.3}, anchor=west] at (428,233) {ILL-D1 AZD1222};
\node[inner sep=0pt] at (497,233) {\syms{ehpt}{black}};
\node[font=\fsz{6.3}, anchor=west] at (503,233) {ILL-D14 AZD1222};
\node[inner sep=0pt] at (562,233) {\symc{ehred}{black}};
\node[font=\fsz{6.3}, anchor=west] at (568,233) {ILL-D1 Placebo};
\node[inner sep=0pt] at (626,233) {\syms{ehred}{black}};
\node[font=\fsz{6.3}, anchor=west] at (632,233) {ILL-D14 Placebo};
\node[inner sep=0pt] at (422,6) {\symc{ehpt}{black}};
\node[font=\fsz{6.3}, anchor=west] at (428,6) {Ancestral AZD1222};
\node[inner sep=0pt] at (500,6) {\syms{ehpt}{black}};
\node[font=\fsz{6.3}, anchor=west] at (506,6) {Omicron AZD1222};
\node[inner sep=0pt] at (572,6) {\symc{ehred}{black}};
\node[font=\fsz{6.3}, anchor=west] at (578,6) {Ancestral Placebo};
\node[inner sep=0pt] at (643,6) {\syms{ehred}{black}};
\node[font=\fsz{6.3}, anchor=west] at (649,6) {Omicron Placebo};
% C/D underlines
\draw[black, line width=1pt] (37,244) -- (59,244);
\draw[gray, line width=1pt] (59,244) -- (134,244);
\draw[black, line width=1pt] (32,16) -- (62,16);
\draw[gray, line width=1pt] (62,16) -- (152,16);
% E-H annotations
\node[font=\fsz{6.3}, anchor=east] at (440,263) {Illness visit:};
\node[font=\fsz{6.3}, anchor=east] at (596,263) {Illness visit:};
\draw[azdline!70, line width=0.7pt] (452,256) -- (483,256);
\draw[plline, line width=0.7pt] (502,256) -- (535,256);
\draw[azdline!70, line width=0.7pt] (606,256) -- (636,256);
\draw[plline, line width=0.7pt] (652,256) -- (685,256);
\node[font=\fsz{6.3}] at (467,249) {AZD1222};
\node[font=\fsz{6.3}] at (518,249) {Placebo};
\node[font=\fsz{6.3}] at (621,249) {AZD1222};
\node[font=\fsz{6.3}] at (668,249) {Placebo};
\node[font=\fsz{6.3}, anchor=east] at (442,35) {Spike peptides:};
\node[font=\fsz{6.3}, anchor=east] at (596,35) {Spike peptides:};
\draw[azdline!70, line width=0.7pt] (444,29) -- (479,29);
\draw[plline, line width=0.7pt] (497,29) -- (535,29);
\draw[azdline!70, line width=0.7pt] (598,29) -- (633,29);
\draw[plline, line width=0.7pt] (652,29) -- (688,29);
\node[font=\fsz{6.3}] at (462,20) {AZD1222};
\node[font=\fsz{6.3}] at (516,20) {Placebo};
\node[font=\fsz{6.3}] at (616,20) {AZD1222};
\node[font=\fsz{6.3}] at (670,20) {Placebo};
% pies
\node[font=\fsz{8.5}\bfseries] at (284,416) {AZD1222};
\node[font=\fsz{8.5}\bfseries] at (284,334) {Placebo};
\mypie{285}{377}{25}{20/cblue, 9/cazure, 1/ccyan, 23/cmint, 2/cred, 3/cyellow, 18/cbrown, 24/cgray}
\draw[line width=1pt] (285,377) ++(90:28) arc[start angle=90, end angle=18, radius=28];
\draw[line width=1pt] (285,377) ++(90:30.5) arc[start angle=90, end angle=18, radius=30.5];
\draw[gray!80, line width=1pt] (285,377) ++(86:33.5) arc[start angle=86, end angle=-101, radius=33.5];
\mypie{285}{295}{25}{17/cblue, 12/cazure, 1/ccyan, 6/cmint, 2/cred, 2/cyellow, 23/cbrown, 37/cgray}
\draw[line width=1pt] (285,295) ++(90:28) arc[start angle=90, end angle=29, radius=28];
\draw[line width=1pt] (285,295) ++(90:30.5) arc[start angle=90, end angle=29, radius=30.5];
\draw[gray!80, line width=1pt] (285,295) ++(86:33.5) arc[start angle=86, end angle=-40, radius=33.5];
\node[font=\fsz{8.5}\bfseries] at (284,191) {AZD1222};
\node[font=\fsz{8.5}\bfseries] at (284,106) {Placebo};
\mypie{285}{151}{25}{9/cblue, 41/cazure, 0.5/ccyan, 1.5/cmint, 24/cred, 16/cyellow, 8/cbrown}
\draw[line width=1pt] (285,151) ++(90:28) arc[start angle=90, end angle=58, radius=28];
\draw[line width=1pt] (285,151) ++(90:30.5) arc[start angle=90, end angle=58, radius=30.5];
\draw[gray!80, line width=1pt] (285,151) ++(86:33.5) arc[start angle=86, end angle=-97, radius=33.5];
\mypie{285}{65}{25}{3/cblue, 7/cazure, 3/cmint, 16/cred, 35/cyellow, 36/cbrown}
\draw[line width=1pt] (285,65) ++(90:28) arc[start angle=90, end angle=79, radius=28];
\draw[gray!80, line width=1pt] (285,65) ++(86:31) arc[start angle=86, end angle=43, radius=31];
\node[font=\fsz{5.5}\bfseries] at (343,416) {IFNγ};
\node[font=\fsz{5.5}\bfseries] at (363,416) {IL-2};
\node[font=\fsz{5.5}\bfseries] at (381,416) {TNF};
\foreach \c/\a/\b/\d [count=\i] in {cblue/+/+/+, cazure/+/-/+, ccyan/+/+/-, cmint/-/+/+, cred/+/-/-, cyellow/-/+/-, cbrown/-/-/+, cgray/-/-/-} {
  \node[font=\fsz{12}\dejavu, text=\c] at (331,{402-11.3*(\i-1)}) {◀};
  \node[font=\fsz{6.5}] at (343,{402-11.3*(\i-1)}) {\a};
  \node[font=\fsz{6.5}] at (363,{402-11.3*(\i-1)}) {\b};
  \node[font=\fsz{6.5}] at (381,{402-11.3*(\i-1)}) {\d};
}
\draw[black, line width=1pt] (333,299) -- (342,299);
\node[font=\fsz{6.5}, anchor=west] at (346,299) {3 cytokines};
\draw[gray!80, line width=1pt] (333,288) -- (342,288);
\node[font=\fsz{6.5}, anchor=west] at (346,288) {2 cytokines};
\node[font=\fsz{5.5}\bfseries] at (343,191) {IFNγ};
\node[font=\fsz{5.5}\bfseries] at (363,191) {IL-2};
\node[font=\fsz{5.5}\bfseries] at (381,191) {TNF};
\foreach \c/\a/\b/\d [count=\i] in {cblue/+/+/+, cazure/+/-/+, ccyan/+/+/-, cmint/-/+/+, cred/+/-/-, cyellow/-/+/-, cbrown/-/-/+} {
  \node[font=\fsz{12}\dejavu, text=\c] at (331,{177-11.2*(\i-1)}) {◀};
  \node[font=\fsz{6.5}] at (343,{177-11.2*(\i-1)}) {\a};
  \node[font=\fsz{6.5}] at (363,{177-11.2*(\i-1)}) {\b};
  \node[font=\fsz{6.5}] at (381,{177-11.2*(\i-1)}) {\d};
}
\draw[black, line width=1pt] (333,74) -- (342,74);
\node[font=\fsz{6.5}, anchor=west] at (346,74) {3 cytokines};
\draw[gray!80, line width=1pt] (333,64) -- (342,64);
\node[font=\fsz{6.5}, anchor=west] at (346,64) {2 cytokines};
\end{scope}
\end{tikzpicture}
\end{document}
